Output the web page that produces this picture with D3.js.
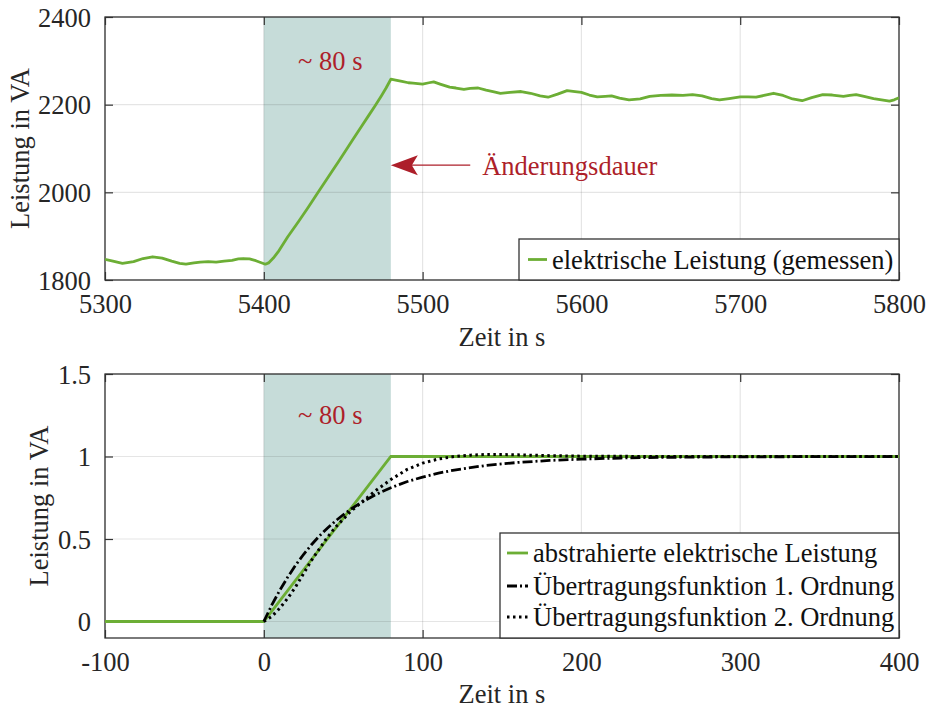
<!DOCTYPE html>
<html><head><meta charset="utf-8">
<script src="https://cdn.jsdelivr.net/npm/d3@7"></script>
<style>body{margin:0;background:#fff}svg{display:block}text{font-family:"Liberation Serif","Times New Roman",serif;}</style>
</head><body>
<svg id="c" width="927" height="709"></svg>
<script>
// ---------- data ----------
const topXTicks = [5300, 5400, 5500, 5600, 5700, 5800];
const topYTicks = [1800, 2000, 2200, 2400];
const botXTicks = [-100, 0, 100, 200, 300, 400];
const botYTicks = [0, 0.5, 1, 1.5];
const botYTickLabels = ["0", "0.5", "1", "1.5"];

const measuredTime = [5300,5305,5311,5318,5324,5330,5336,5342,5347,5351,5356,5360,5365,5370,5375,5380,5384,5387,5391,5395,5398,5401,5403,5406,5409,5415,5422,5428,5434,5443,5447,5451,5456,5462,5466,5470,5474,5477,5480,5483,5487,5491,5494,5500,5504,5507,5511,5517,5521,5526,5530,5535,5540,5545,5549,5555,5562,5568,5574,5579,5585,5591,5596,5600,5605,5610,5615,5619,5624,5630,5637,5643,5650,5657,5664,5670,5676,5682,5687,5693,5700,5705,5710,5715,5721,5727,5733,5739,5745,5752,5758,5765,5769,5773,5778,5784,5789,5794,5797,5800];
const measuredPower = [1847,1843,1838,1842,1849,1853,1850,1843,1838,1836,1839,1841,1842,1841,1843,1845,1848,1849,1848,1844,1840,1836,1839,1850,1864,1898,1934,1966,1999,2048,2070,2092,2120,2153,2175,2197,2220,2238,2258,2256,2253,2250,2249,2247,2250,2252,2247,2240,2238,2235,2237,2238,2233,2229,2226,2228,2230,2226,2220,2217,2224,2232,2230,2228,2222,2218,2219,2220,2215,2211,2213,2219,2221,2222,2221,2223,2220,2214,2211,2214,2218,2218,2217,2221,2226,2221,2213,2209,2216,2223,2222,2219,2221,2223,2219,2214,2211,2208,2211,2216];

const abstractTime = [-100, 0, 80, 400];
const abstractPower = [0, 0, 1, 1];

const pt1Time = [0,5,10,15,20,25,30,35,40,45,50,55,60,70,80,90,100,110,120,140,160,180,200,225,250,300,350,400];
const pt1Power = [0,0.099,0.188,0.268,0.341,0.406,0.465,0.518,0.565,0.608,0.647,0.682,0.713,0.767,0.811,0.847,0.875,0.899,0.918,0.946,0.964,0.976,0.984,0.991,0.995,0.998,0.999,1.0];

const pt2Time = [0,5,10,15,20,25,30,35,40,45,50,55,60,70,80,90,100,110,120,130,140,150,160,180,200,250,300,400];
const pt2Power = [0,0.03,0.08,0.14,0.21,0.29,0.37,0.44,0.51,0.57,0.62,0.67,0.71,0.79,0.86,0.92,0.96,0.985,1.0,1.008,1.012,1.012,1.01,1.005,1.002,1.0,1.0,1.0];

const topShade = [5400, 5480];
const botShade = [0, 80];

const topLegend = ["elektrische Leistung (gemessen)"];
const botLegend = ["abstrahierte elektrische Leistung", "Übertragungsfunktion 1. Ordnung", "Übertragungsfunktion 2. Ordnung"];

// ---------- styles ----------
const GREEN = "#6cae35", RED = "#ad1f2a", SHADE = "#c6dcd9", AX = "#333333";
const FS = 26.5;
const svg = d3.select("#c");

function panel(cfg) {
  const g = svg.append("g");
  const x = d3.scaleLinear().domain(cfg.xd).range([105, 899]);
  const y = d3.scaleLinear().domain(cfg.yd).range([cfg.y1, cfg.y0]);
  const clipId = "clip" + cfg.id;
  svg.append("clipPath").attr("id", clipId).append("rect")
    .attr("x", 105).attr("y", cfg.y0).attr("width", 794).attr("height", cfg.y1 - cfg.y0);
  g.append("rect").attr("x", x(cfg.shade[0])).attr("width", x(cfg.shade[1]) - x(cfg.shade[0]))
    .attr("y", cfg.y0).attr("height", cfg.y1 - cfg.y0).attr("fill", SHADE);
  g.append("g").selectAll("line").data(cfg.xt).join("line")
    .attr("x1", d => x(d)).attr("x2", d => x(d)).attr("y1", cfg.y0).attr("y2", cfg.y1)
    .attr("stroke", "#262626").attr("stroke-opacity", 0.12).attr("stroke-width", 1.2);
  g.append("g").selectAll("line").data(cfg.yt).join("line")
    .attr("y1", d => y(d)).attr("y2", d => y(d)).attr("x1", 105).attr("x2", 899)
    .attr("stroke", "#262626").attr("stroke-opacity", 0.12).attr("stroke-width", 1.2);
  const xb = d3.axisBottom(x).tickValues(cfg.xt).tickSizeInner(-8).tickSizeOuter(0).tickPadding(14).tickFormat(d => String(d));
  const gx = g.append("g").attr("transform", `translate(0,${cfg.y1})`).call(xb);
  const xtp = d3.axisTop(x).tickValues(cfg.xt).tickSizeInner(-8).tickSizeOuter(0).tickFormat("");
  const gxt = g.append("g").attr("transform", `translate(0,${cfg.y0})`).call(xtp);
  const yl = d3.axisLeft(y).tickValues(cfg.yt).tickSizeInner(-8).tickSizeOuter(0).tickPadding(14).tickFormat((d, i) => cfg.ytl[i]);
  const gy = g.append("g").attr("transform", `translate(105,0)`).call(yl);
  const yr = d3.axisRight(y).tickValues(cfg.yt).tickSizeInner(-8).tickSizeOuter(0).tickFormat("");
  const gyr = g.append("g").attr("transform", `translate(899,0)`).call(yr);
  [gx, gxt, gy, gyr].forEach(a => {
    a.attr("font-family", null);
    a.select(".domain").remove();
    a.selectAll(".tick line").attr("stroke", AX).attr("stroke-width", 1.2);
    a.selectAll("text").attr("font-size", FS).attr("fill", "#262626")
      .style("font-family", '"Liberation Serif", serif');
  });
  gx.selectAll("text").attr("dy", "0.71em");
  gy.selectAll("text").attr("dy", "0.34em");
  g.append("rect").attr("x", 105).attr("y", cfg.y0).attr("width", 794).attr("height", cfg.y1 - cfg.y0)
    .attr("fill", "none").attr("stroke", AX).attr("stroke-width", 1.3);
  g.append("text").attr("x", 502).attr("y", cfg.xlabY).attr("text-anchor", "middle")
    .attr("font-size", FS).attr("fill", "#262626").text("Zeit in s");
  g.append("text").attr("transform", `translate(${cfg.ylabX},${(cfg.y0 + cfg.y1) / 2}) rotate(-90)`)
    .attr("text-anchor", "middle").attr("font-size", FS).attr("fill", "#262626").text("Leistung in VA");
  g.append("text").attr("x", x((cfg.shade[0] + cfg.shade[1]) / 2) + 3).attr("y", cfg.annY)
    .attr("text-anchor", "middle").attr("font-size", FS).attr("fill", RED).text("~ 80 s");
  const plot = g.append("g").attr("clip-path", `url(#${clipId})`);
  return { g, x, y, plot };
}

// ---------- top panel ----------
const P1 = panel({ id: 1, xd: [5300, 5800], yd: [1800, 2400], y0: 17, y1: 280, xt: topXTicks, yt: topYTicks,
  ytl: topYTicks.map(String), shade: topShade, xlabY: 346, ylabX: 29, annY: 70 });
const line1 = d3.line().x((d, i) => P1.x(measuredTime[i])).y(d => P1.y(d));
P1.plot.append("path").datum(measuredPower).attr("d", line1).attr("fill", "none")
  .attr("stroke", GREEN).attr("stroke-width", 2.8).attr("stroke-linejoin", "round");

// arrow annotation
{
  const ay = P1.y(2062), tipX = P1.x(5480), tailX = P1.x(5530);
  P1.g.append("line").attr("x1", tipX + 20).attr("x2", tailX).attr("y1", ay).attr("y2", ay)
    .attr("stroke", RED).attr("stroke-width", 1.2);
  P1.g.append("path")
    .attr("d", `M${tipX},${ay} L${tipX + 27},${ay - 10} L${tipX + 21},${ay} L${tipX + 27},${ay + 10} Z`)
    .attr("fill", RED);
  P1.g.append("text").attr("x", P1.x(5537.5)).attr("y", ay + 10).attr("font-size", FS).attr("fill", RED).text("Änderungsdauer");
}
// top legend
{
  const lg = P1.g.append("g");
  lg.append("rect").attr("x", 519).attr("y", 239).attr("width", 380).attr("height", 41)
    .attr("fill", "#fff").attr("stroke", AX).attr("stroke-width", 1.3);
  lg.append("line").attr("x1", 528).attr("x2", 547).attr("y1", 259.5).attr("y2", 259.5)
    .attr("stroke", GREEN).attr("stroke-width", 2.8);
  lg.append("text").attr("x", 552).attr("y", 268.5).attr("font-size", FS).attr("fill", "#111").text(topLegend[0]);
}

// ---------- bottom panel ----------
const P2 = panel({ id: 2, xd: [-100, 400], yd: [-0.1, 1.5], y0: 374, y1: 638, xt: botXTicks, yt: botYTicks,
  ytl: botYTickLabels, shade: botShade, xlabY: 703, ylabX: 48, annY: 424 });
const mk = (xs, sc) => d3.line().x((d, i) => sc.x(xs[i])).y(d => sc.y(d));
P2.plot.append("path").datum(abstractPower).attr("d", mk(abstractTime, P2)).attr("fill", "none")
  .attr("stroke", GREEN).attr("stroke-width", 2.8);
P2.plot.append("path").datum(pt2Power).attr("d", mk(pt2Time, P2)).attr("fill", "none")
  .attr("stroke", "#000").attr("stroke-width", 3).attr("stroke-dasharray", "2.5,3.5");
P2.plot.append("path").datum(pt1Power).attr("d", mk(pt1Time, P2)).attr("fill", "none")
  .attr("stroke", "#000").attr("stroke-width", 2.8).attr("stroke-dasharray", "10,3,2,3");

// bottom legend
{
  const lg = P2.g.append("g");
  lg.append("rect").attr("x", 500).attr("y", 533).attr("width", 399).attr("height", 105)
    .attr("fill", "#fff").attr("stroke", AX).attr("stroke-width", 1.3);
  const rows = [553, 586, 617];
  const styles = [{ c: GREEN, d: null }, { c: "#000", d: "10,3,2,3" }, { c: "#000", d: "2.5,3.5" }];
  botLegend.forEach((t, i) => {
    const l = lg.append("line").attr("x1", 507).attr("x2", 528).attr("y1", rows[i]).attr("y2", rows[i])
      .attr("stroke", styles[i].c).attr("stroke-width", 2.8);
    if (styles[i].d) l.attr("stroke-dasharray", styles[i].d);
    lg.append("text").attr("x", 533).attr("y", rows[i] + 9).attr("font-size", FS).attr("fill", "#111").text(t);
  });
}
</script>
</body></html>
